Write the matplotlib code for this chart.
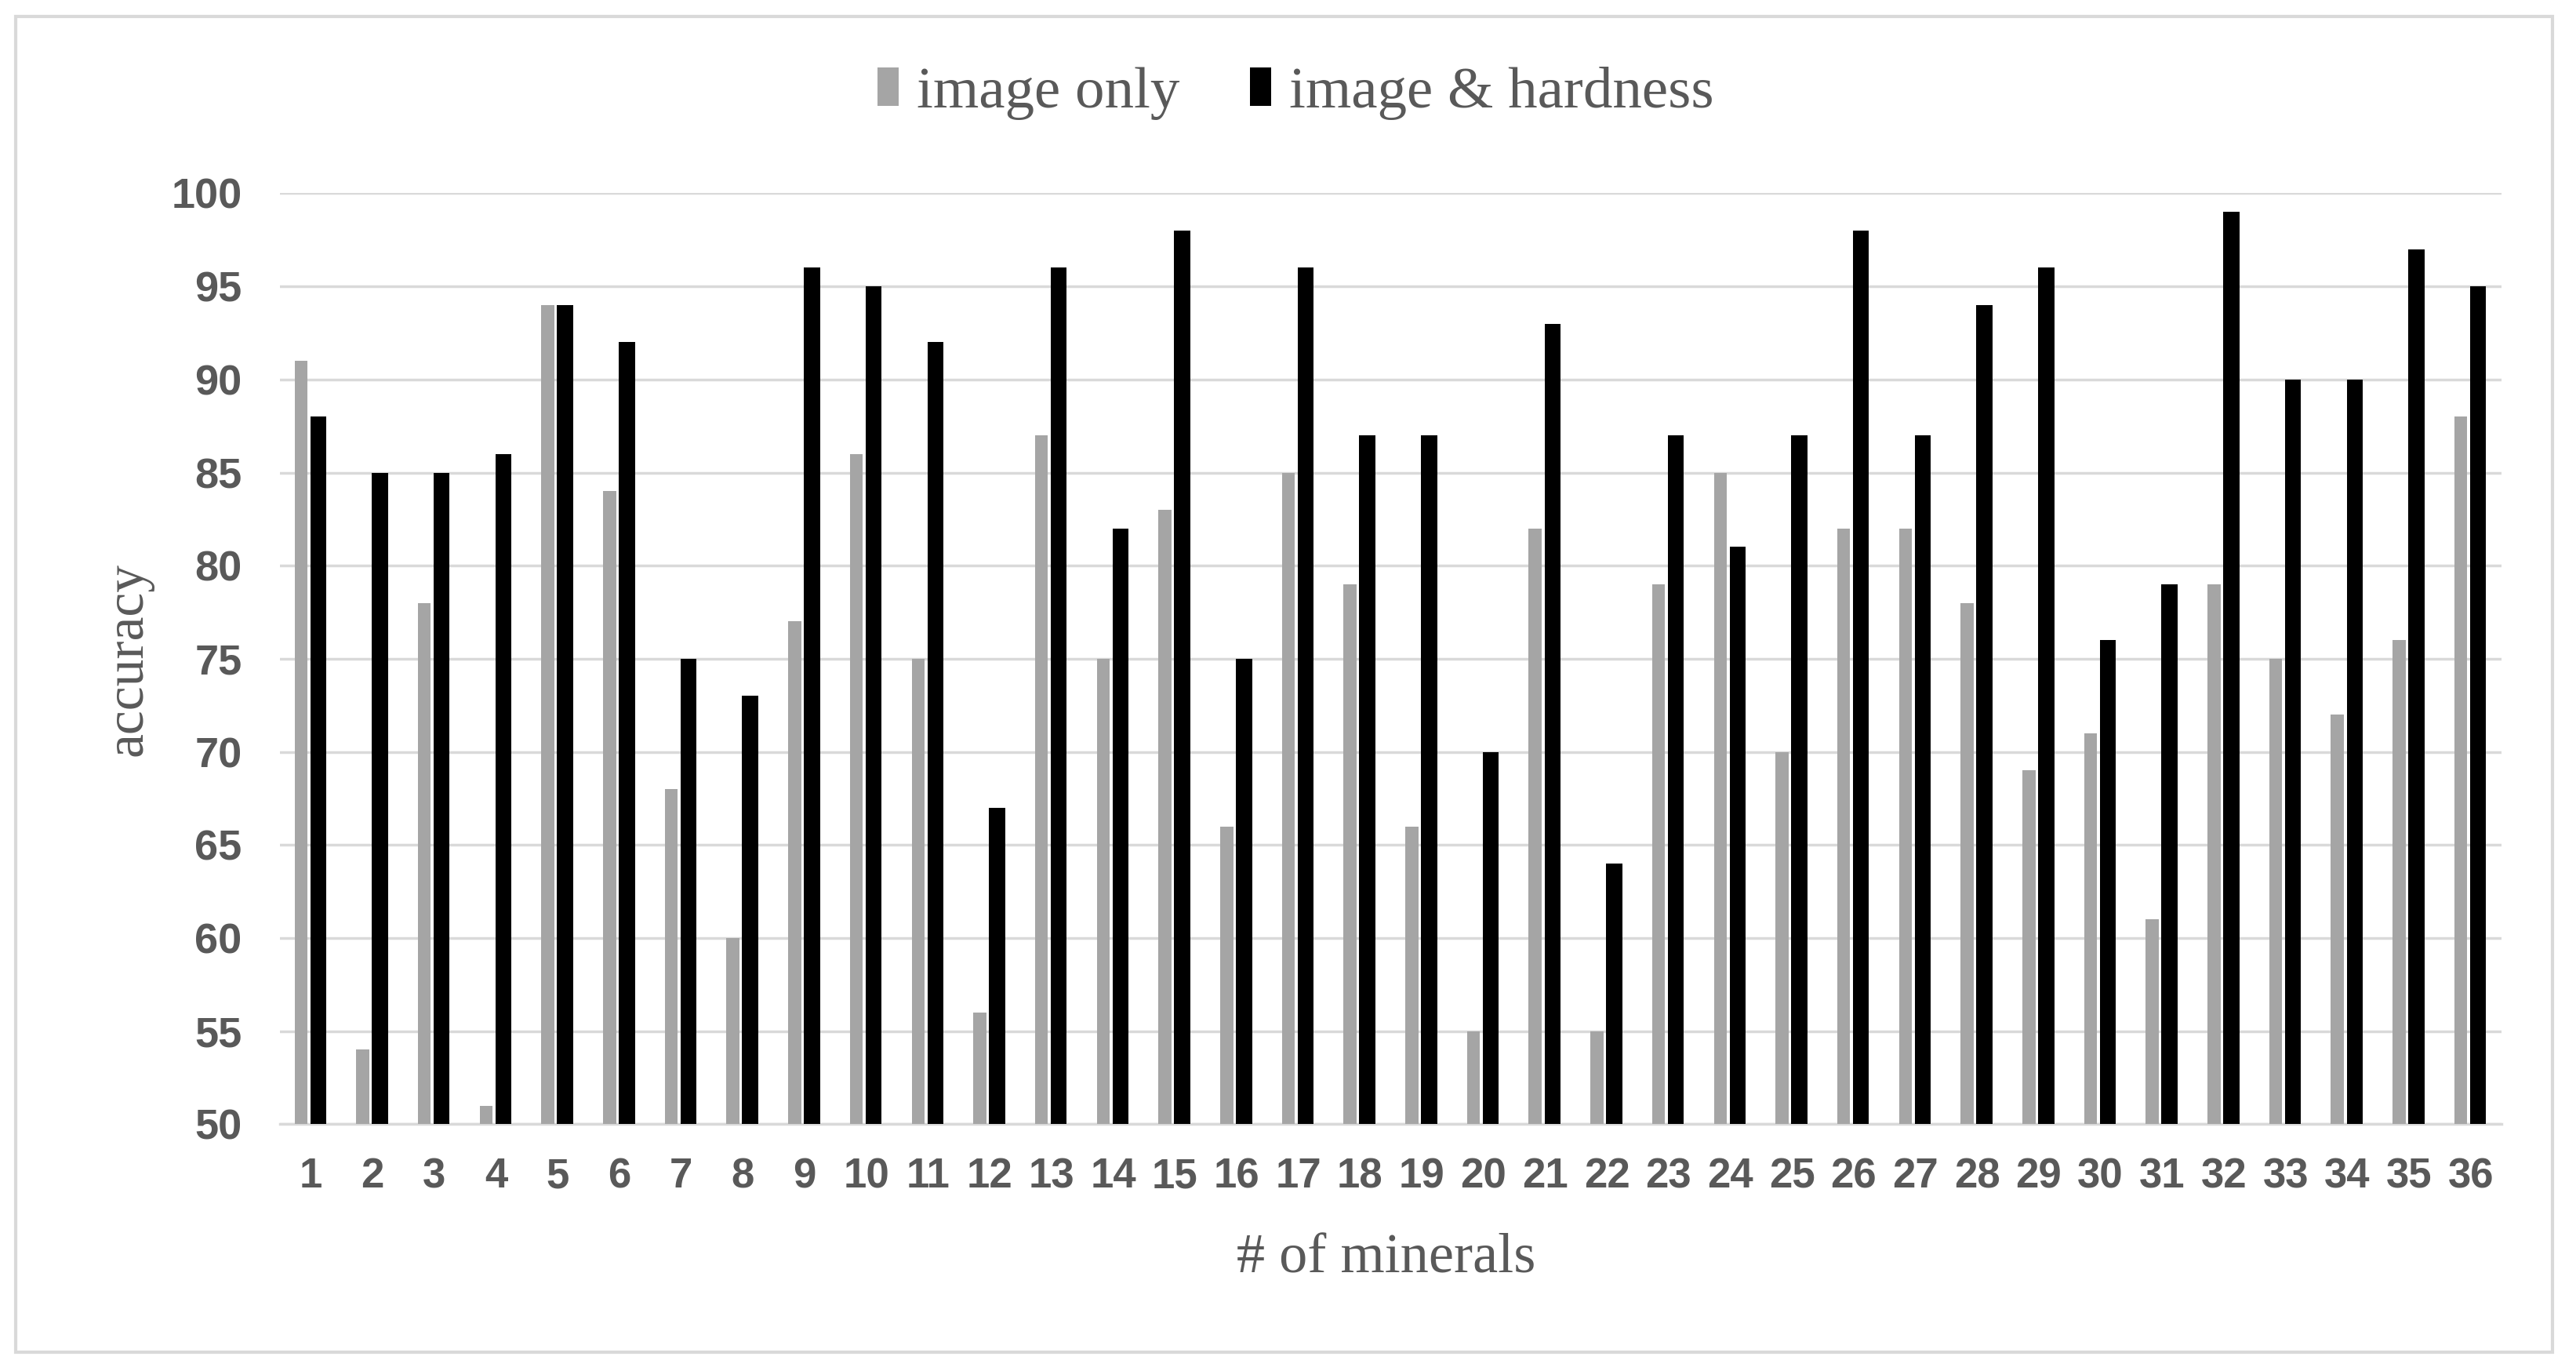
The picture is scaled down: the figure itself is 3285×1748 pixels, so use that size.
import numpy as np
import matplotlib
matplotlib.use("Agg")
import matplotlib.pyplot as plt
from matplotlib.patches import Rectangle

# accuracy per mineral
minerals = [str(i) for i in range(1, 37)]
image_only = [91, 54, 78, 51, 94, 84, 68, 60, 77, 86, 75, 56, 87, 75, 83, 66, 85, 79,
              66, 55, 82, 55, 79, 85, 70, 82, 82, 78, 69, 71, 61, 79, 75, 72, 76, 88]
image_hardness = [88, 85, 85, 86, 94, 92, 75, 73, 96, 95, 92, 67, 96, 82, 98, 75, 96, 87,
                  87, 70, 93, 64, 87, 81, 87, 98, 87, 94, 96, 76, 79, 99, 90, 90, 97, 95]
yticks = list(range(50, 101, 5))

txt = '#595959'
fig = plt.figure(figsize=(32.85, 17.48), dpi=100)
ax = fig.add_axes([0.1087, 0.180, 0.8624, 0.679])

x = np.arange(len(minerals))
ax.bar(x - 0.16, np.array(image_only) - 50, bottom=50, width=0.21,
       color='#A5A5A5', label='image only', zorder=3)
ax.bar(x + 0.12, np.array(image_hardness) - 50, bottom=50, width=0.26,
       color='#000000', label='image & hardness', zorder=3)

ax.set_ylim(50, 100)
ax.set_xlim(-0.5, len(minerals) - 0.5)
ax.set_yticks(yticks)
ax.set_xticks(x)
ax.set_xticklabels(minerals, fontfamily='Liberation Sans', fontweight='bold',
                   fontsize=38, color=txt)
ax.set_yticklabels([str(v) for v in yticks], fontfamily='Liberation Sans',
                   fontweight='bold', fontsize=39, color=txt)
ax.tick_params(axis='both', length=0)
ax.tick_params(axis='x', pad=30)
ax.tick_params(axis='y', pad=35)
ax.grid(axis='y', color='#D9D9D9', linewidth=2.5, zorder=0)
for s in ['top', 'right', 'left']:
    ax.spines[s].set_visible(False)
ax.spines['bottom'].set_color('#D9D9D9')
ax.spines['bottom'].set_linewidth(2.5)

fig.text(0.05, 0.519, 'accuracy', rotation=90, ha='center', va='center',
         fontfamily='Liberation Serif', fontsize=50, color=txt)
fig.text(0.538, 0.082, '# of minerals', ha='center', va='center',
         fontfamily='Liberation Serif', fontsize=52, color=txt)

fig.legend(loc='center', bbox_to_anchor=(0.503, 0.932), ncol=2, frameon=False,
           prop={'family': 'Liberation Serif', 'size': 54}, labelcolor=txt,
           handlelength=0.36, handleheight=0.62, handletextpad=0.3, columnspacing=1.2)

fig.patches.append(Rectangle((0.006, 0.014), 0.985, 0.974, transform=fig.transFigure,
                             fill=False, edgecolor='#D9D9D9', linewidth=3))

fig.savefig('out.png', dpi=100, facecolor='white')
